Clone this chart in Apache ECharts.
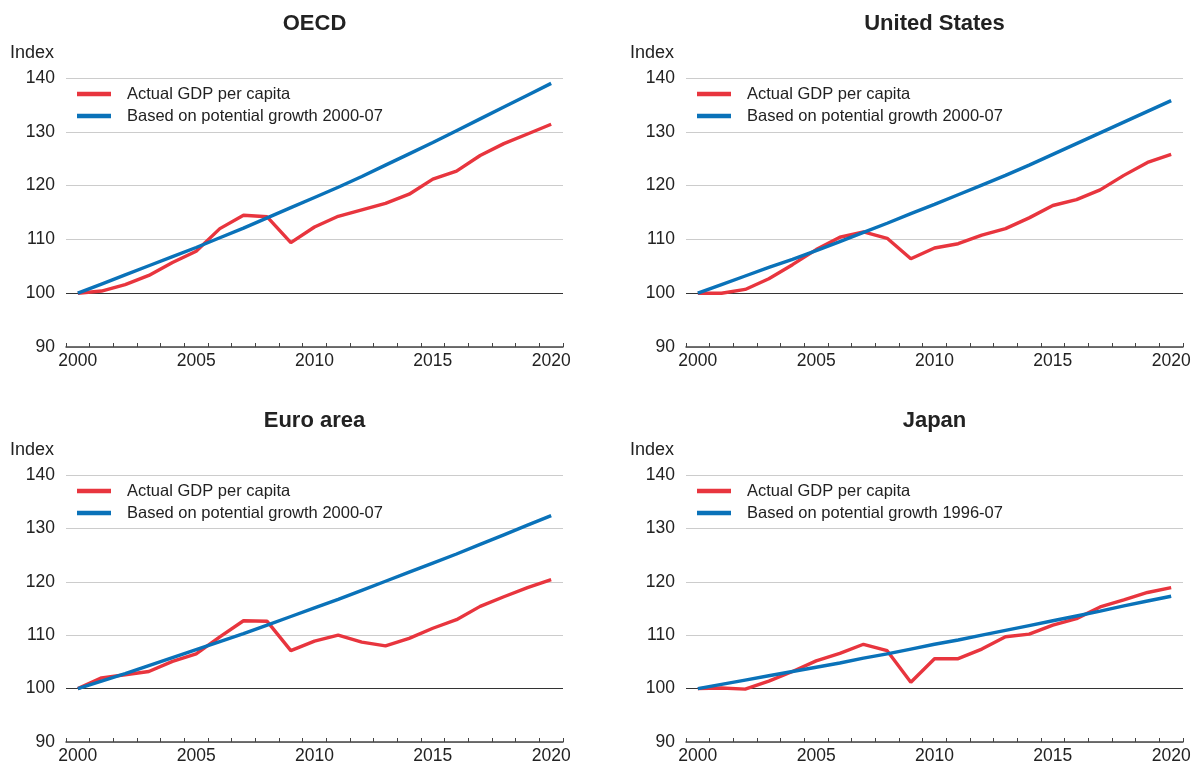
<!DOCTYPE html>
<html>
<head>
<meta charset="utf-8">
<script src="https://cdn.jsdelivr.net/npm/echarts@6/dist/echarts.min.js"></script>
<style>
html,body{margin:0;padding:0;background:#fff;}
#chart{width:1196px;height:765px;}
</style>
</head>
<body>
<div id="chart"></div>
<script>
const years = ['2000','2001','2002','2003','2004','2005','2006','2007','2008','2009','2010','2011','2012','2013','2014','2015','2016','2017','2018','2019','2020'];
const yTicks = [90, 140, 10];

const oecdActual    = [100, 100.4, 101.6, 103.3, 105.7, 107.8, 112.0, 114.5, 114.2, 109.4, 112.3, 114.3, 115.5, 116.7, 118.4, 121.2, 122.7, 125.6, 127.8, 129.6, 131.4];
const oecdPotential = [100, 101.7, 103.4, 105.1, 106.8, 108.5, 110.3, 112.1, 114.0, 115.9, 117.8, 119.7, 121.7, 123.8, 125.9, 128.0, 130.2, 132.4, 134.6, 136.8, 139.0];

const usActual      = [100, 100.0, 100.7, 102.7, 105.3, 108.1, 110.4, 111.4, 110.2, 106.4, 108.4, 109.2, 110.8, 112.0, 114.0, 116.3, 117.4, 119.2, 121.9, 124.3, 125.8];
const usPotential   = [100, 101.6, 103.2, 104.8, 106.3, 107.9, 109.6, 111.3, 113.0, 114.8, 116.5, 118.3, 120.1, 121.9, 123.8, 125.8, 127.8, 129.8, 131.8, 133.8, 135.8];

const euroActual    = [100, 102.0, 102.6, 103.2, 105.1, 106.5, 109.7, 112.7, 112.6, 107.1, 108.9, 110.0, 108.7, 108.0, 109.4, 111.3, 112.9, 115.4, 117.2, 118.9, 120.4];
const euroPotential = [100, 101.4, 102.8, 104.3, 105.8, 107.3, 108.8, 110.3, 111.9, 113.5, 115.1, 116.7, 118.4, 120.1, 121.8, 123.5, 125.2, 127.0, 128.8, 130.6, 132.4];

const japanActual    = [100, 100.1, 99.9, 101.4, 103.2, 105.2, 106.6, 108.3, 107.1, 101.2, 105.6, 105.6, 107.4, 109.7, 110.2, 111.9, 113.1, 115.3, 116.6, 118.0, 118.9];
const japanPotential = [100, 100.8, 101.6, 102.4, 103.2, 104.0, 104.8, 105.7, 106.5, 107.4, 108.3, 109.1, 110.0, 110.9, 111.8, 112.7, 113.6, 114.5, 115.5, 116.4, 117.3];

const actualName = 'Actual GDP per capita';
const panels = [
  {title: 'OECD', actual: oecdActual, potential: oecdPotential, potName: 'Based on potential growth 2000-07'},
  {title: 'United States', actual: usActual, potential: usPotential, potName: 'Based on potential growth 2000-07'},
  {title: 'Euro area', actual: euroActual, potential: euroPotential, potName: 'Based on potential growth 2000-07'},
  {title: 'Japan', actual: japanActual, potential: japanPotential, potName: 'Based on potential growth 1996-07'}
];

const RED = '#e8353e';
const BLUE = '#0a72b9';
const FONT = '"Liberation Sans", Arial, sans-serif';
const layout = [
  {left: 66, top: 78},
  {left: 686, top: 78},
  {left: 66, top: 475},
  {left: 686, top: 475}
];
const W = 497, H = 269;

const option = {
  backgroundColor: '#fff',
  animation: false,
  textStyle: {fontFamily: FONT},
  title: [], legend: [], grid: [], xAxis: [], yAxis: [], series: []
};

panels.forEach((p, i) => {
  const L = layout[i];
  option.title.push({
    text: p.title, left: L.left + W / 2, top: L.top - 65, textAlign: 'center', padding: 0,
    textStyle: {fontFamily: FONT, fontSize: 22, fontWeight: 'bold', color: '#222'}
  });
  option.title.push({
    text: 'Index', left: L.left - 56, top: L.top - 34, padding: 0,
    textStyle: {fontFamily: FONT, fontSize: 18, fontWeight: 'normal', color: '#222'}
  });
  option.grid.push({left: L.left, top: L.top, width: W, height: H, containLabel: false});
  option.xAxis.push({
    type: 'category', gridIndex: i, data: years, boundaryGap: true,
    axisLine: {show: true, lineStyle: {color: '#444', width: 1.5}},
    axisTick: {show: true, inside: true, length: 4, interval: 0, alignWithLabel: false, lineStyle: {color: '#444'}},
    axisLabel: {interval: 4, fontSize: 17.5, color: '#222', margin: 5, fontFamily: FONT},
    splitLine: {show: false}
  });
  option.yAxis.push({
    type: 'value', gridIndex: i, min: yTicks[0], max: yTicks[1], interval: yTicks[2],
    axisLine: {show: false}, axisTick: {show: false},
    axisLabel: {fontSize: 17.5, color: '#222', margin: 11, fontFamily: FONT},
    splitLine: {show: true, lineStyle: {color: ['#cccccc', '#333333', '#cccccc', '#cccccc', '#cccccc', '#cccccc'], width: 1}}
  });
  option.legend.push({
    data: [actualName, p.potName],
    orient: 'vertical', left: L.left + 11, top: L.top + 7, padding: 0,
    icon: 'rect', itemWidth: 34, itemHeight: 4.5, itemGap: 4,
    textStyle: {fontSize: 16.5, lineHeight: 18, color: '#222', fontFamily: FONT, padding: [0, 0, 0, 11]},
    selectedMode: false
  });
  option.series.push({
    name: actualName, type: 'line', xAxisIndex: i, yAxisIndex: i, data: p.actual,
    showSymbol: false, symbol: 'none', color: RED, lineStyle: {color: RED, width: 3.4}, z: 3
  });
  option.series.push({
    name: p.potName, type: 'line', xAxisIndex: i, yAxisIndex: i, data: p.potential,
    showSymbol: false, symbol: 'none', color: BLUE, lineStyle: {color: BLUE, width: 3.4}, z: 4
  });
});

const chart = echarts.init(document.getElementById('chart'), null, {renderer: 'canvas'});
chart.setOption(option);
</script>
</body>
</html>
